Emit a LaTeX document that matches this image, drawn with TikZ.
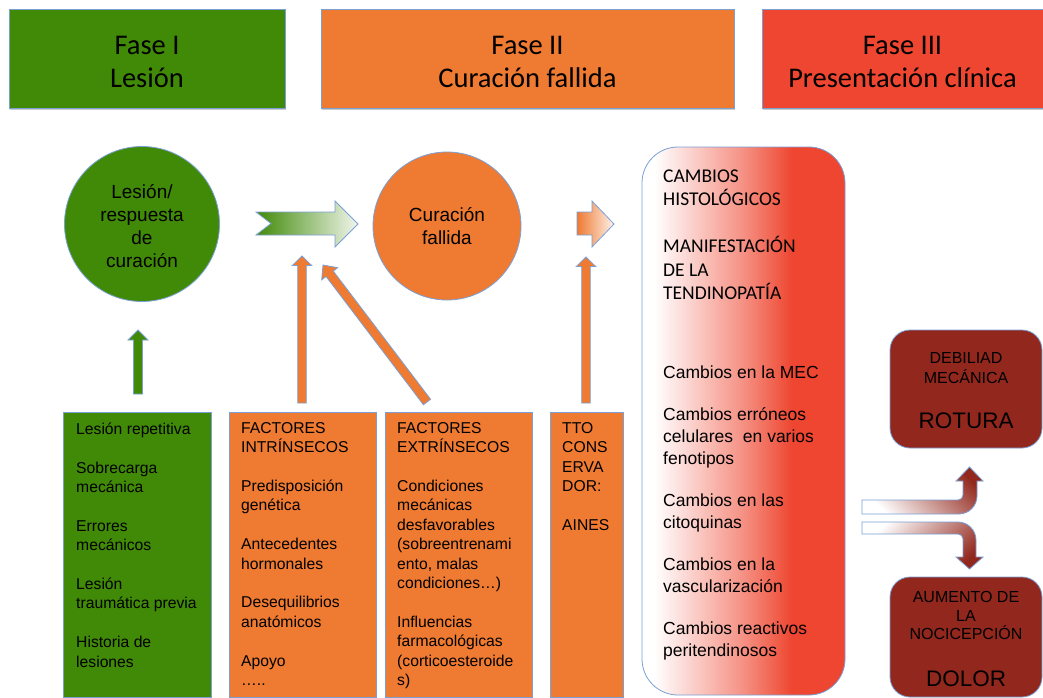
\documentclass[tikz,border=0pt]{standalone}
\usepackage{fontspec}
\setmainfont{Liberation Sans}
\newfontfamily\carlito{Carlito}
\usetikzlibrary{calc,shadows}

\definecolor{fgreen}{RGB}{65,138,8}
\definecolor{forange}{RGB}{239,122,50}
\definecolor{fred}{RGB}{238,70,48}
\definecolor{fdark}{RGB}{146,40,29}
\definecolor{fline}{RGB}{122,160,214}

\pgfdeclarehorizontalshading{redfade}{100bp}{color(0bp)=(white); color(28bp)=(white); color(50bp)=(fred!60!white); color(62bp)=(fred); color(100bp)=(fred)}

% first line of a text block is one em tall, so its top sits one em above the first baseline
\newcommand\topline{\rule{0pt}{1em}}

% block arrow: style, tail, tip, shaft half width, head half width, head length
\newcommand\flecha[6]{%
  \coordinate (flechabase) at ($(#3)!#6!(#2)$);
  \path[#1] ($(#2)!#4!90:(#3)$) -- ($(flechabase)!#4!-90:(#2)$)
    -- ($(flechabase)!#5!-90:(#2)$) -- (#3) -- ($(flechabase)!#5!90:(#2)$)
    -- ($(flechabase)!#4!90:(#2)$) -- ($(#2)!#4!-90:(#3)$) -- cycle;}

\begin{document}
\begin{tikzpicture}[x=1pt,y=-1pt,
  outline/.style={draw=fline, line width=0.8pt},
  hdr/.style={outline, inner sep=0pt,
    drop shadow={shadow xshift=0.6pt, shadow yshift=-2pt, opacity=0.2, fill=black}},
  hdrtext/.style={inner sep=0pt, anchor=north, align=center,
    font=\carlito\fontsize{28.5}{33}\selectfont},
  colbox/.style={outline, inner sep=0pt, minimum height=285pt},
  txt/.style={inner sep=0pt, anchor=north west, align=left,
    font=\fontsize{15.7}{19.4}\selectfont},
  circtext/.style={inner sep=0pt, anchor=north, align=center,
    font=\fontsize{19}{23}\selectfont},
  endbox/.style={outline, fill=fdark, rounded corners=20pt, inner sep=0pt,
    minimum width=152pt},
  endtext/.style={inner sep=0pt, anchor=north, align=center},
  uparrow/.style={outline, fill=forange},
]
\useasboundingbox (0,0) rectangle (1043,698);

% phase headers
\node[hdr, fill=fgreen, minimum width=276pt, minimum height=99pt] (f1) at (147,58.5) {};
\node[hdr, fill=forange, minimum width=413pt, minimum height=99pt] (f2) at (527.5,58.5) {};
\node[hdr, fill=fred, minimum width=281pt, minimum height=99pt] (f3) at (902.5,58.5) {};
\node[hdrtext] (f1t) at (147,26) {\topline Fase I\\Lesión};
\node[hdrtext] (f2t) at (527.5,26) {\topline Fase II\\Curación fallida};
\node[hdrtext] (f3t) at (902.5,26) {\topline Fase III\\Presentación clínica};

% circles
\node[circle, outline, fill=fgreen, minimum size=155pt, inner sep=0pt] (c1) at (142,224) {};
\node[circtext] (c1t) at (142,179.5) {\topline Lesión/\\respuesta\\de\\curación};
\node[circle, outline, fill=forange, minimum size=148pt, inner sep=0pt] (c2) at (447,226) {};
\node[circtext] (c2t) at (447,202) {\topline Curación\\fallida};

% horizontal gradient arrows
\path[outline, left color=fgreen, right color=fgreen!8!white]
  (256,212) -- (335,212) -- (335,201) -- (358,224) -- (335,247) -- (335,235)
  -- (256,235) -- (271,223.5) -- cycle;
\path[outline, left color=forange, right color=forange!10!white]
  (577,212) -- (592,212) -- (592,201) -- (614,224) -- (592,247) -- (592,235)
  -- (577,235) -- cycle;

% lower columns
\node[colbox, fill=fgreen, minimum width=148pt] (b1) at (137,554.5) {};
\node[colbox, fill=forange, minimum width=147pt] (b2) at (302.5,554.5) {};
\node[colbox, fill=forange, minimum width=147pt] (b3) at (458.5,554.5) {};
\node[colbox, fill=forange, minimum width=73pt] (b4) at (586.5,554.5) {};

\node[txt] (b1t) at (76,418.3) {\topline Lesión repetitiva\\[19.4pt]Sobrecarga\\mecánica\\[19.4pt]Errores\\mecánicos\\[19.4pt]Lesión\\traumática previa\\[19.4pt]Historia de\\lesiones};
\node[txt] (b2t) at (241,417.3) {\topline FACTORES\\INTRÍNSECOS\\[19.4pt]Predisposición\\genética\\[19.4pt]Antecedentes\\hormonales\\[19.4pt]Desequilibrios\\anatómicos\\[19.4pt]Apoyo\\…..};
\node[txt] (b3t) at (397,417.3) {\topline FACTORES\\EXTRÍNSECOS\\[19.4pt]Condiciones\\mecánicas\\desfavorables\\(sobreentrenami\\ento, malas\\condiciones…)\\[19.4pt]Influencias\\farmacológicas\\(corticoesteroide\\s)};
\node[txt] (b4t) at (562,417.3) {\topline TTO\\CONS\\ERVA\\DOR:\\[19.4pt]AINES};

% upward arrows
\coordinate (g1a) at (138,394); \coordinate (g1b) at (138,330);
\flecha{outline, fill=fgreen}{g1a}{g1b}{4.5pt}{10pt}{10pt}
\coordinate (o1a) at (302,403); \coordinate (o1b) at (302,256);
\flecha{uparrow}{o1a}{o1b}{4.3pt}{9.7pt}{9.5pt}
\coordinate (o2a) at (427,402); \coordinate (o2b) at (323,265);
\flecha{uparrow}{o2a}{o2b}{4.5pt}{10pt}{11pt}
\coordinate (o3a) at (586,403); \coordinate (o3b) at (586,257);
\flecha{uparrow}{o3a}{o3b}{4.3pt}{9.7pt}{9.5pt}

% clinical presentation column
\node[outline, rounded corners=36pt, shade, shading=redfade,
  minimum width=203pt, minimum height=548pt, inner sep=0pt] (rb) at (743.5,421) {};
\node[txt, font=\carlito\fontsize{19.5}{23.5}\selectfont] (rbt1) at (663,162.5)
  {\topline CAMBIOS\\HISTOLÓGICOS\\[23.5pt]MANIFESTACIÓN\\DE LA\\TENDINOPATÍA};
\node[txt, font=\fontsize{17.5}{22.3}\selectfont] (rbt2) at (663,360.5)
  {\topline Cambios en la MEC\\[19.5pt]Cambios erróneos\\celulares~ en varios\\fenotipos\\[19.5pt]Cambios en las\\citoquinas\\[19.5pt]Cambios en la\\vascularización\\[19.5pt]Cambios reactivos\\peritendinosos};

% outcomes
\node[endbox, minimum height=118pt] (e1) at (966,389) {};
\node[endtext, font=\fontsize{16}{19.5}\selectfont] (e1t) at (966,347.5) {\topline DEBILIAD\\MECÁNICA};
\node[inner sep=0pt, anchor=base, font=\fontsize{22.5}{26}\selectfont] (e1r) at (966,428) {ROTURA};
\node[endbox, minimum height=120pt] (e2) at (966,637) {};
\node[endtext, font=\fontsize{16}{18.6}\selectfont] (e2t) at (966,586.5) {\topline AUMENTO DE\\LA\\NOCICEPCIÓN};
\node[inner sep=0pt, anchor=base, font=\fontsize{22.5}{26}\selectfont] (e2r) at (966,686) {DOLOR};

% split arrows towards the outcomes
\path[outline, shading=axis, bottom color=white, middle color=fdark!35!white, top color=fdark, shading angle=-45]
  (862,500) -- (958,500) .. controls (960.8,500) and (963,497.8) .. (963,495)
  -- (963,481) -- (956,481) -- (969.5,467) -- (983,481) -- (977,481) -- (977,496)
  .. controls (977,505.9) and (968.9,514) .. (959,514) -- (862,514) -- cycle;
\path[outline, shading=axis, bottom color=white, middle color=fdark!35!white, top color=fdark, shading angle=-135]
  (862,522) -- (958,522) .. controls (967.9,522) and (976,530.1) .. (976,540)
  -- (976,557) -- (983,557) -- (969.5,569) -- (956,557) -- (963,557) -- (963,539)
  .. controls (963,536.2) and (960.8,534) .. (958,534) -- (862,534) -- cycle;
\end{tikzpicture}
\end{document}
